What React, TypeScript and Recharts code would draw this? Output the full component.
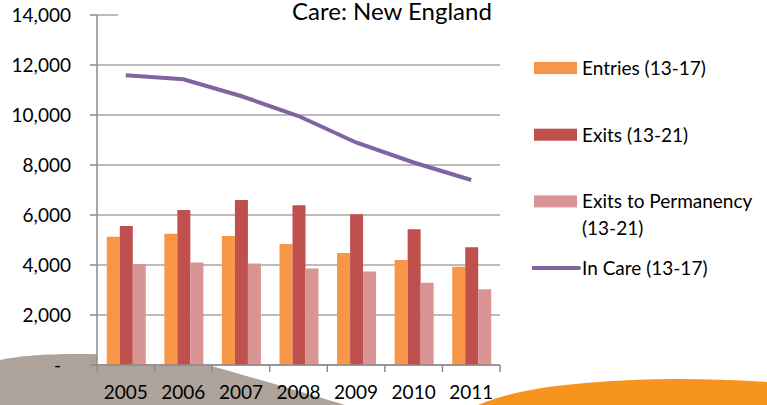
import {
  ComposedChart,
  Bar,
  Line,
  XAxis,
  YAxis,
  CartesianGrid,
  Legend,
} from "recharts";

const years = ["2005", "2006", "2007", "2008", "2009", "2010", "2011"];
const entries = [5130, 5250, 5160, 4840, 4480, 4200, 3930];
const exits = [5560, 6200, 6600, 6390, 6030, 5430, 4710];
const exitsToPermanency = [4040, 4100, 4060, 3860, 3740, 3290, 3030];
const inCare = [11590, 11430, 10760, 9960, 8900, 8100, 7400];

const yTicks = [0, 2000, 4000, 6000, 8000, 10000, 12000, 14000];

const seriesNames = [
  "Entries (13-17)",
  "Exits (13-21)",
  "Exits to Permanency (13-21)",
  "In Care (13-17)",
];
const seriesColors = ["#f79646", "#c0504d", "#d99594", "#8064a2"];

const data = years.map((year, i) => ({
  year,
  entries: entries[i],
  exits: exits[i],
  perm: exitsToPermanency[i],
  inCare: inCare[i],
}));

const FONT = "Lato, 'Open Sans', sans-serif";
const AXIS = "#8c8c8c";
const GRID = "#a6a6a6";
const X_TICK_MARGIN = 20;

// category label plus the Excel-style tick marks sitting between categories
function YearTick(props: any) {
  const { x, y, payload, index, visibleTicksCount, width } = props;
  const half =
    typeof payload?.offset === "number" && payload.offset > 0
      ? payload.offset
      : width / visibleTicksCount / 2;
  const axisY = y - X_TICK_MARGIN;
  return (
    <g>
      <line x1={x - half} x2={x - half} y1={axisY} y2={axisY + 7} stroke={AXIS} strokeWidth={1.5} />
      {index === visibleTicksCount - 1 && (
        <line x1={x + half} x2={x + half} y1={axisY} y2={axisY + 7} stroke={AXIS} strokeWidth={1.5} />
      )}
      <text x={x} y={axisY + 34} textAnchor="middle" fontSize={19} fontFamily={FONT} fill="#000">
        {payload.value}
      </text>
    </g>
  );
}

// accounting style: zero shows as a dash set in from the right
function ValueTick(props: any) {
  const { x, y, payload } = props;
  const v = payload.value as number;
  return (
    <text
      x={v === 0 ? x - 10 : x}
      y={y}
      dy="0.355em"
      textAnchor="end"
      fontSize={19}
      fontFamily={FONT}
      fill="#000"
    >
      {v === 0 ? "-" : v.toLocaleString("en-US")}
    </text>
  );
}

function legendLines(name: string): string[] {
  if (name.length > 20) {
    const cut = name.lastIndexOf(" ");
    return [name.slice(0, cut), name.slice(cut + 1)];
  }
  return [name];
}

function ChartLegend() {
  return (
    <svg width={234} height={250} style={{ display: "block" }}>
      {seriesNames.map((name, i) => {
        const cy = 28 + i * 66.7;
        const isLine = i === 3;
        return (
          <g key={name}>
            {isLine ? (
              <line
                x1={1}
                x2={47}
                y1={cy}
                y2={cy}
                stroke={seriesColors[i]}
                strokeWidth={4}
                strokeLinecap="round"
              />
            ) : (
              <rect x={2} y={cy - 6} width={43} height={12} fill={seriesColors[i]} />
            )}
            {legendLines(name).map((t, j) => (
              <text
                key={t}
                x={50}
                y={cy + 7 + j * 27}
                fontSize={19}
                fontFamily={FONT}
                fill="#000"
              >
                {t}
              </text>
            ))}
          </g>
        );
      })}
    </svg>
  );
}

export default function App() {
  return (
    <div
      style={{
        position: "absolute",
        left: 0,
        top: 0,
        width: 767,
        height: 405,
        background: "#fff",
        overflow: "hidden",
      }}
    >
      {/* slide decoration behind the chart */}
      <svg
        width={767}
        height={405}
        style={{ position: "absolute", left: 0, top: 0 }}
      >
        <path
          d="M0,360 C20,356 40,354 80,354 C130,354 180,358 215,367 C255,378 300,392 345,405 L0,405 Z"
          fill="#ada39b"
        />
        <path
          d="M478,405 C495,398 525,388 585,383 C645,378 700,378 767,382 L767,405 Z"
          fill="#f7941e"
        />
        <rect x={97} y={15} width={403} height={350} fill="#fff" />
      </svg>
      <div style={{ position: "absolute", left: 0, top: 0 }}>
        <ComposedChart
          width={767}
          height={405}
          data={data}
          margin={{ top: 15, right: 267, left: 0, bottom: 0 }}
          barGap={0}
          barCategoryGap="17%"
        >
          <CartesianGrid vertical={false} stroke={GRID} strokeWidth={1.3} />
          <XAxis
            dataKey="year"
            height={40}
            stroke={AXIS}
            strokeWidth={1.5}
            tickLine={false}
            tickSize={0}
            tickMargin={X_TICK_MARGIN}
            interval={0}
            tick={<YearTick />}
          />
          <YAxis
            width={97}
            domain={[0, 14000]}
            ticks={yTicks}
            interval={0}
            tickSize={7}
            tickMargin={19}
            stroke={AXIS}
            strokeWidth={1.5}
            tick={<ValueTick />}
          />
          <Legend
            layout="vertical"
            verticalAlign="middle"
            align="center"
            wrapperStyle={{ left: 532, top: 40, width: 234 }}
            content={() => <ChartLegend />}
          />
          <Bar
            dataKey="entries"
            name={seriesNames[0]}
            fill={seriesColors[0]}
            isAnimationActive={false}
          />
          <Bar
            dataKey="exits"
            name={seriesNames[1]}
            fill={seriesColors[1]}
            isAnimationActive={false}
          />
          <Bar
            dataKey="perm"
            name={seriesNames[2]}
            fill={seriesColors[2]}
            isAnimationActive={false}
          />
          <Line
            dataKey="inCare"
            name={seriesNames[3]}
            type="linear"
            stroke={seriesColors[3]}
            strokeWidth={4}
            dot={false}
            isAnimationActive={false}
          />
        </ComposedChart>
      </div>
      <svg
        width={767}
        height={32}
        style={{ position: "absolute", left: 0, top: 0 }}
      >
        <rect x={118} y={0} width={392} height={28} fill="#fff" />
        <text x={292} y={20} fontSize={24} fontFamily={FONT} fill="#000">
          Care: New England
        </text>
      </svg>
    </div>
  );
}
